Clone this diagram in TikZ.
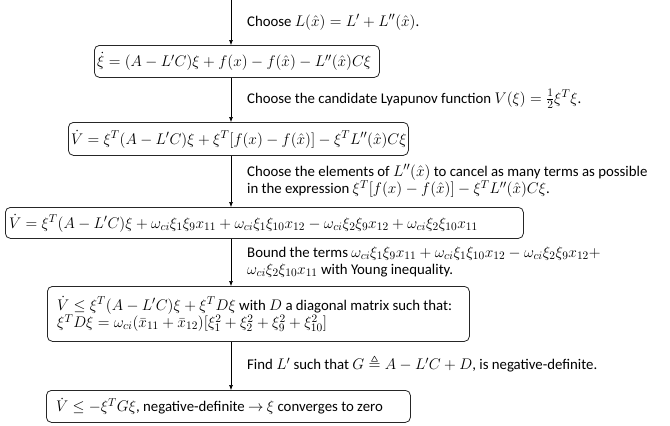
\RequirePackage{fix-cm}
\documentclass[tikz,border=0pt]{standalone}
\usepackage{amsmath,amssymb}
\usepackage{fontspec}
\setmainfont{Carlito}
\DeclareMathSizes{14.8}{15.4}{11.4}{9}
\usetikzlibrary{arrows.meta}
\begin{document}
\begin{tikzpicture}[x=1pt,y=-1pt,
  every node/.style={font=\fontsize{14.8}{17.5}\selectfont},
  bx/.style={draw=black!85, line width=0.8pt, rounded corners=5pt, anchor=north west, inner sep=0pt},
  txt/.style={anchor=west, align=left, inner sep=0pt},
  lbl/.style={anchor=west, align=left, inner sep=0pt},
  arr/.style={draw=black, line width=0.6pt, -{Latex[length=5pt,width=4pt]}}]
\useasboundingbox (0,0) rectangle (670,426);
\coordinate (ax) at (231,0);
% boxes
\node[bx, minimum width=285pt, minimum height=32pt] (b1) at (94,45) {};
\node[txt] (t1) at ([xshift=3pt]b1.west)
  {$\dot{\xi} = (A - L'C)\xi + f(x) - f(\hat{x}) - L''(\hat{x})C\xi$};
\node[bx, minimum width=340pt, minimum height=33pt] (b2) at (68,122) {};
\node[txt] (t2) at ([xshift=3pt]b2.west)
  {$\dot{V} = \xi^T(A - L'C)\xi + \xi^T[f(x) - f(\hat{x})] - \xi^T L''(\hat{x})C\xi$};
\node[bx, minimum width=518pt, minimum height=31pt] (b3) at (5,207) {};
\node[txt] (t3) at ([xshift=4pt]b3.west)
  {$\dot{V} = \xi^T(A - L'C)\xi + \omega_{ci}\xi_1\xi_9x_{11} + \omega_{ci}\xi_1\xi_{10}x_{12} - \omega_{ci}\xi_2\xi_9x_{12} + \omega_{ci}\xi_2\xi_{10}x_{11}$};
\node[bx, minimum width=422pt, minimum height=55pt] (b4) at (47,286) {};
\node[txt] (t4) at ([xshift=10pt]b4.west)
  {$\dot{V} \le \xi^T(A - L'C)\xi + \xi^T D\xi$ with $D$ a diagonal matrix such that:\\
   $\xi^T D\xi = \omega_{ci}(\bar{x}_{11} + \bar{x}_{12})[\xi_1^2 + \xi_2^2 + \xi_9^2 + \xi_{10}^2]$};
\node[bx, minimum width=364pt, minimum height=32pt] (b5) at (46,390) {};
\node[txt] (t5) at ([xshift=10pt]b5.west)
  {$\dot{V} \le -\xi^T G\xi$, negative-definite $\rightarrow$ $\xi$ converges to zero};
% arrows
\draw[arr] (ax) -- (b1.north -| ax);
\draw[arr] (b1.south -| ax) -- (b2.north -| ax);
\draw[arr] (b2.south -| ax) -- (b3.north -| ax);
\draw[arr] (b3.south -| ax) -- (b4.north -| ax);
\draw[arr] (b4.south -| ax) -- (b5.north -| ax);
% labels
\node[lbl] (l1) at (247,22) {Choose $L(\hat{x}) = L' + L''(\hat{x})$.};
\node[lbl] (l2) at (247,99) {Choose the candidate Lyapunov function $V(\xi) = \frac{1}{2}\xi^T\xi$.};
\node[lbl] (l3) at (247,181) {Choose the elements of $L''(\hat{x})$ to cancel as many terms as possible\\
  in the expression $\xi^T[f(x) - f(\hat{x})] - \xi^T L''(\hat{x})C\xi$.};
\node[lbl] (l4) at (247,262) {Bound the terms $\omega_{ci}\xi_1\xi_9x_{11} + \omega_{ci}\xi_1\xi_{10}x_{12} - \omega_{ci}\xi_2\xi_9x_{12} +$\\
  $\omega_{ci}\xi_2\xi_{10}x_{11}$ with Young inequality.};
\node[lbl] (l5) at (247,364) {Find $L'$ such that $G \triangleq A - L'C + D$, is negative-definite.};
\end{tikzpicture}
\end{document}
